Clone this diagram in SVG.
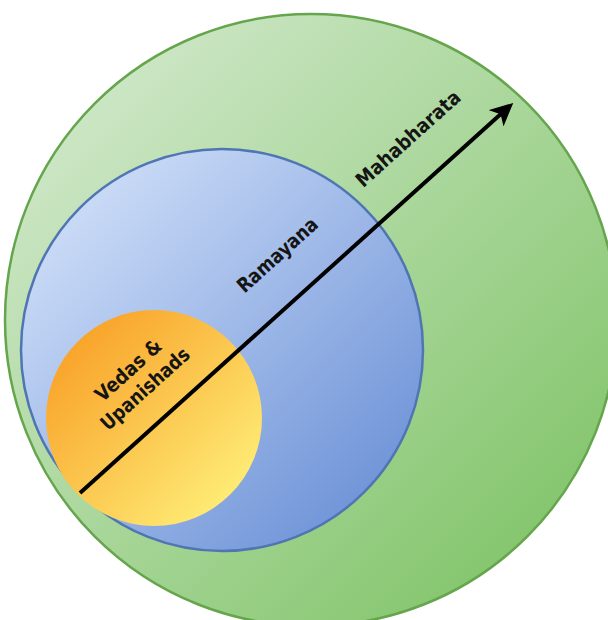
<svg xmlns="http://www.w3.org/2000/svg" width="608" height="620" viewBox="0 0 608 620">
<defs>
<linearGradient id="gGreen" x1="0" y1="0" x2="1" y2="1">
<stop offset="0" stop-color="#d9ecd5"/>
<stop offset="1" stop-color="#78c05e"/>
</linearGradient>
<linearGradient id="gBlue" x1="0" y1="0" x2="1" y2="1">
<stop offset="0" stop-color="#dbe8fc"/>
<stop offset="1" stop-color="#6088d3"/>
</linearGradient>
<linearGradient id="gOrange" x1="0" y1="0" x2="1" y2="1">
<stop offset="0" stop-color="#f8961c"/>
<stop offset="1" stop-color="#fff983"/>
</linearGradient>
<marker id="arrow" viewBox="0 0 23 22" refX="10" refY="11" markerWidth="23" markerHeight="22" markerUnits="userSpaceOnUse" orient="auto">
<path d="M0,0 L23,11 L0,22 L6,11 Z" fill="#000"/>
</marker>
</defs>
<style>
.lbl{font-family:"DejaVu Sans","Liberation Sans",sans-serif;font-weight:bold;font-size:20px;fill:#151515;text-anchor:middle}
</style>
<rect width="608" height="620" fill="#ffffff"/>
<g id="mahabharata">
<circle cx="311" cy="320" r="306" fill="url(#gGreen)" stroke="#65a54c" stroke-width="2.5"/>
<text class="lbl" transform="translate(80,493) rotate(-42)" x="481" y="-37" textLength="133" lengthAdjust="spacingAndGlyphs">Mahabharata</text>
</g>
<g id="ramayana">
<circle cx="222" cy="350" r="201" fill="url(#gBlue)" stroke="#5075b3" stroke-width="2.5"/>
<text class="lbl" transform="translate(80,493) rotate(-42)" x="306" y="-38" textLength="101" lengthAdjust="spacingAndGlyphs">Ramayana</text>
</g>
<g id="vedas">
<circle cx="154" cy="418" r="108" fill="url(#gOrange)"/>
<text class="lbl" transform="translate(80,493) rotate(-42)" x="118" y="-52" textLength="82" lengthAdjust="spacingAndGlyphs">Vedas &amp;</text>
<text class="lbl" transform="translate(80,493) rotate(-42)" x="118" y="-27" textLength="112" lengthAdjust="spacingAndGlyphs">Upanishads</text>
</g>
<g id="connectors">
<line transform="translate(80,493) rotate(-42)" x1="0" y1="0" x2="570" y2="0" stroke="#000" stroke-width="4" marker-end="url(#arrow)"/>
</g>
</svg>
